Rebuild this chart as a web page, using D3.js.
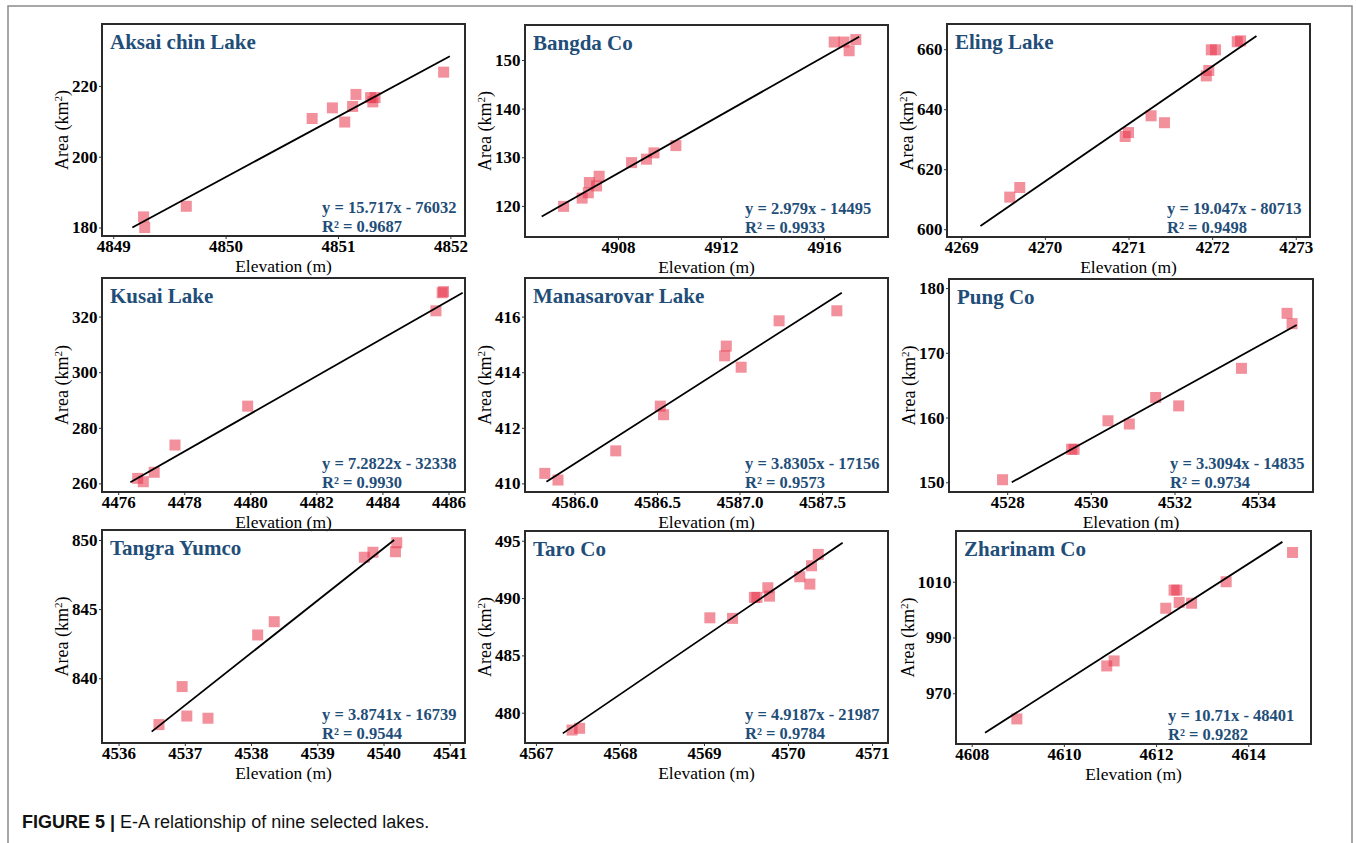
<!DOCTYPE html>
<html>
<head>
<meta charset="utf-8">
<script src="https://cdn.jsdelivr.net/npm/d3@7"></script>
<style>
    body { margin: 0; background: #fff; }
    svg { display: block; }
</style>
</head>
<body>
<div id="chart"></div>
<script>
// Lake names
const lakeNames = ["Aksai chin Lake", "Bangda Co", "Eling Lake", "Kusai Lake", "Manasarovar Lake",
    "Pung Co", "Tangra Yumco", "Taro Co", "Zharinam Co"];

// Elevation (m) of each observation, per lake
const elevations = [
    [4849.27, 4849.28, 4849.65, 4850.77, 4850.95, 4851.06, 4851.13, 4851.16, 4851.29, 4851.31, 4851.33, 4851.94],
    [4905.89, 4906.61, 4906.85, 4906.89, 4907.17, 4907.27, 4908.53, 4909.11, 4909.40, 4910.25, 4916.40, 4916.78, 4916.98, 4917.24],
    [4269.58, 4269.70, 4270.96, 4271.00, 4271.27, 4271.43, 4271.93, 4271.96, 4271.99, 4272.04, 4272.30, 4272.34],
    [4476.59, 4476.76, 4477.09, 4477.72, 4479.92, 4485.62, 4485.81, 4485.85],
    [4585.82, 4585.90, 4586.25, 4586.52, 4586.54, 4586.91, 4586.92, 4587.01, 4587.24, 4587.59],
    [4527.89, 4529.54, 4529.60, 4530.41, 4530.92, 4531.55, 4532.10, 4533.60, 4534.69, 4534.81],
    [4536.61, 4536.96, 4537.03, 4537.35, 4538.10, 4538.35, 4539.71, 4539.84, 4540.18, 4540.20],
    [4567.43, 4567.52, 4569.07, 4569.34, 4569.60, 4569.63, 4569.76, 4569.78, 4570.14, 4570.26, 4570.28, 4570.36],
    [4608.98, 4610.93, 4611.09, 4612.21, 4612.39, 4612.45, 4612.50, 4612.77, 4613.52, 4614.96]
];

// Area (km2) of each observation, per lake
const areas = [
    [183.0, 180.0, 186.0, 210.8, 213.8, 209.8, 214.2, 217.6, 216.7, 215.5, 216.7, 223.9],
    [119.9, 121.6, 122.7, 124.8, 124.1, 126.1, 128.9, 129.6, 130.9, 132.4, 153.7, 153.7, 151.9, 154.2],
    [610.7, 613.9, 630.9, 632.2, 637.8, 635.5, 651.1, 652.9, 659.8, 659.8, 662.5, 662.8],
    [261.8, 260.6, 264.0, 273.8, 287.8, 322.1, 328.6, 329.0],
    [410.36, 410.12, 411.17, 412.78, 412.47, 414.59, 414.94, 414.18, 415.85, 416.21],
    [150.4, 155.1, 155.1, 159.5, 159.0, 163.1, 161.8, 167.6, 176.1, 174.5],
    [836.65, 839.40, 837.27, 837.11, 843.13, 844.09, 848.75, 849.11, 849.15, 849.80],
    [478.49, 478.64, 488.28, 488.23, 490.06, 490.06, 490.90, 490.17, 491.86, 491.22, 492.82, 493.81],
    [960.8, 979.8, 981.6, 1000.5, 1007.0, 1007.0, 1002.6, 1002.3, 1010.0, 1020.5]
];

// Trend line end points [x0, y0, x1, y1] in data units
const trendLines = [
    [4849.17, 180.0, 4851.995, 228.4],
    [4905.04, 117.8, 4917.37, 154.8],
    [4269.23, 601.1, 4272.53, 664.4],
    [4476.37, 260.4, 4486.43, 328.6],
    [4585.83, 410.06, 4587.62, 416.86],
    [4528.11, 150.0, 4534.92, 174.3],
    [4536.50, 836.14, 4540.16, 850.0],
    [4567.32, 478.20, 4570.65, 494.83],
    [4608.29, 955.8, 4614.74, 1024.3]
];

const equations = ["y = 15.717x - 76032", "y = 2.979x - 14495", "y = 19.047x - 80713",
    "y = 7.2822x - 32338", "y = 3.8305x - 17156", "y = 3.3094x - 14835",
    "y = 3.8741x - 16739", "y = 4.9187x - 21987", "y = 10.71x - 48401"];
const rSquared = ["R² = 0.9687", "R² = 0.9933", "R² = 0.9498", "R² = 0.9930", "R² = 0.9573",
    "R² = 0.9734", "R² = 0.9544", "R² = 0.9784", "R² = 0.9282"];

// Axis extents and tick values
const xDomains = [[4848.90, 4852.13], [4904.39, 4918.49], [4268.83, 4273.17], [4475.51, 4486.5],
    [4585.70, 4587.90], [4526.61, 4535.31], [4535.75, 4541.23], [4566.87, 4571.19], [4607.66, 4615.36]];
const yDomains = [[177.6, 237.5], [113.6, 157.2], [597.4, 668.4], [256.9, 333.9],
    [409.69, 417.39], [148.5, 181.4], [835.32, 850.72], [477.36, 495.85], [951.8, 1028.2]];
const xTicks = [
    [4849, 4850, 4851, 4852], [4908, 4912, 4916], [4269, 4270, 4271, 4272, 4273],
    [4476, 4478, 4480, 4482, 4484, 4486], [4586.0, 4586.5, 4587.0, 4587.5], [4528, 4530, 4532, 4534],
    [4536, 4537, 4538, 4539, 4540, 4541], [4567, 4568, 4569, 4570, 4571], [4608, 4610, 4612, 4614]
];
const xTickFormats = ["d", "d", "d", "d", ".1f", "d", "d", "d", "d"];
const yTicks = [
    [180, 200, 220], [120, 130, 140, 150], [600, 620, 640, 660], [260, 280, 300, 320],
    [410, 412, 414, 416], [150, 160, 170, 180], [840, 845, 850], [480, 485, 490, 495], [970, 990, 1010]
];

// Plot boxes [left, top, right, bottom] in pixels
const boxes = [
    [102, 24, 465, 236], [525, 25, 888, 237], [947, 24, 1310, 237],
    [102, 278, 465, 492], [525, 278, 888, 492], [949, 279, 1313, 492],
    [102, 530, 465, 743], [525, 531, 888, 743], [956, 531, 1311, 744]
];

const serif = "'Liberation Serif', 'Times New Roman', serif";
const blue = "#1f4e79";
const pointColor = "#e8344a";

const svg = d3.select("#chart")
    .append("svg")
    .attr("width", 1356)
    .attr("height", 843);

// outer frame of the figure
svg.append("rect")
    .attr("x", 8)
    .attr("y", 6)
    .attr("width", 1344)
    .attr("height", 900)
    .attr("fill", "none")
    .attr("stroke", "#8a8a8a")
    .attr("stroke-width", 1.5);

lakeNames.forEach((name, i) => {
    const [left, top, right, bottom] = boxes[i];
    const width = right - left;
    const height = bottom - top;

    const x = d3.scaleLinear().domain(xDomains[i]).range([0, width]);
    const y = d3.scaleLinear().domain(yDomains[i]).range([height, 0]);

    const g = svg.append("g")
        .attr("transform", `translate(${left},${top})`);

    // x axis
    const xAxis = g.append("g")
        .attr("transform", `translate(0,${height})`)
        .call(d3.axisBottom(x)
            .tickValues(xTicks[i])
            .tickFormat(d3.format(xTickFormats[i]))
            .tickSize(3)
            .tickPadding(1));

    // y axis
    const yAxis = g.append("g")
        .call(d3.axisLeft(y)
            .tickValues(yTicks[i])
            .tickFormat(d3.format("d"))
            .tickSize(3)
            .tickPadding(1.5));

    [xAxis, yAxis].forEach(ax => {
        ax.select(".domain").remove();
        ax.selectAll(".tick line").attr("stroke", "#333").attr("stroke-width", 1);
        ax.selectAll(".tick text")
            .attr("fill", "#000")
            .style("font-family", serif)
            .style("font-size", "17px")
            .style("font-weight", "bold");
    });

    // panel border
    g.append("rect")
        .attr("width", width)
        .attr("height", height)
        .attr("fill", "none")
        .attr("stroke", "#2b2b2b")
        .attr("stroke-width", 2);

    // points
    const pts = elevations[i].map((e, k) => ({ e: e, a: areas[i][k] }));
    g.selectAll(".pt")
        .data(pts)
        .enter().append("rect")
        .attr("class", "pt")
        .attr("x", d => x(d.e) - 5.5)
        .attr("y", d => y(d.a) - 5.5)
        .attr("width", 11)
        .attr("height", 11)
        .attr("fill", pointColor)
        .attr("fill-opacity", 0.55);

    // trend line
    const t = trendLines[i];
    g.append("line")
        .attr("x1", x(t[0]))
        .attr("y1", y(t[1]))
        .attr("x2", x(t[2]))
        .attr("y2", y(t[3]))
        .attr("stroke", "#000")
        .attr("stroke-width", 1.8);

    // lake name
    g.append("text")
        .attr("x", 8)
        .attr("y", 25)
        .style("font-family", serif)
        .style("font-size", "21px")
        .style("font-weight", "bold")
        .attr("fill", blue)
        .text(name);

    // equation and R2
    const eq = g.append("text")
        .style("font-family", serif)
        .style("font-size", "16.5px")
        .style("font-weight", "bold")
        .attr("fill", blue);
    eq.append("tspan").attr("x", width - 143).attr("y", height - 23).text(equations[i]);
    eq.append("tspan").attr("x", width - 143).attr("y", height - 4.5).text(rSquared[i]);

    // x title
    g.append("text")
        .attr("x", width / 2)
        .attr("y", height + 35.5)
        .attr("text-anchor", "middle")
        .style("font-family", serif)
        .style("font-size", "17.5px")
        .text("Elevation (m)");

    // y title, placed left of the tick labels
    const yb = yAxis.node().getBBox();
    const yt = g.append("text")
        .attr("transform", `translate(${yb.x - 4},${height / 2}) rotate(-90)`)
        .attr("text-anchor", "middle")
        .style("font-family", serif)
        .style("font-size", "18px");
    yt.append("tspan").text("Area (km");
    yt.append("tspan").attr("baseline-shift", "super").style("font-size", "11px").text("2");
    yt.append("tspan").text(")");
});

// caption
const cap = svg.append("text")
    .attr("x", 22)
    .attr("y", 828)
    .style("font-family", "'Liberation Sans', Arial, sans-serif")
    .style("font-size", "18px")
    .attr("fill", "#111");
cap.append("tspan").style("font-weight", "bold").text("FIGURE 5 | ");
cap.append("tspan").text("E-A relationship of nine selected lakes.");
</script>
</body>
</html>
